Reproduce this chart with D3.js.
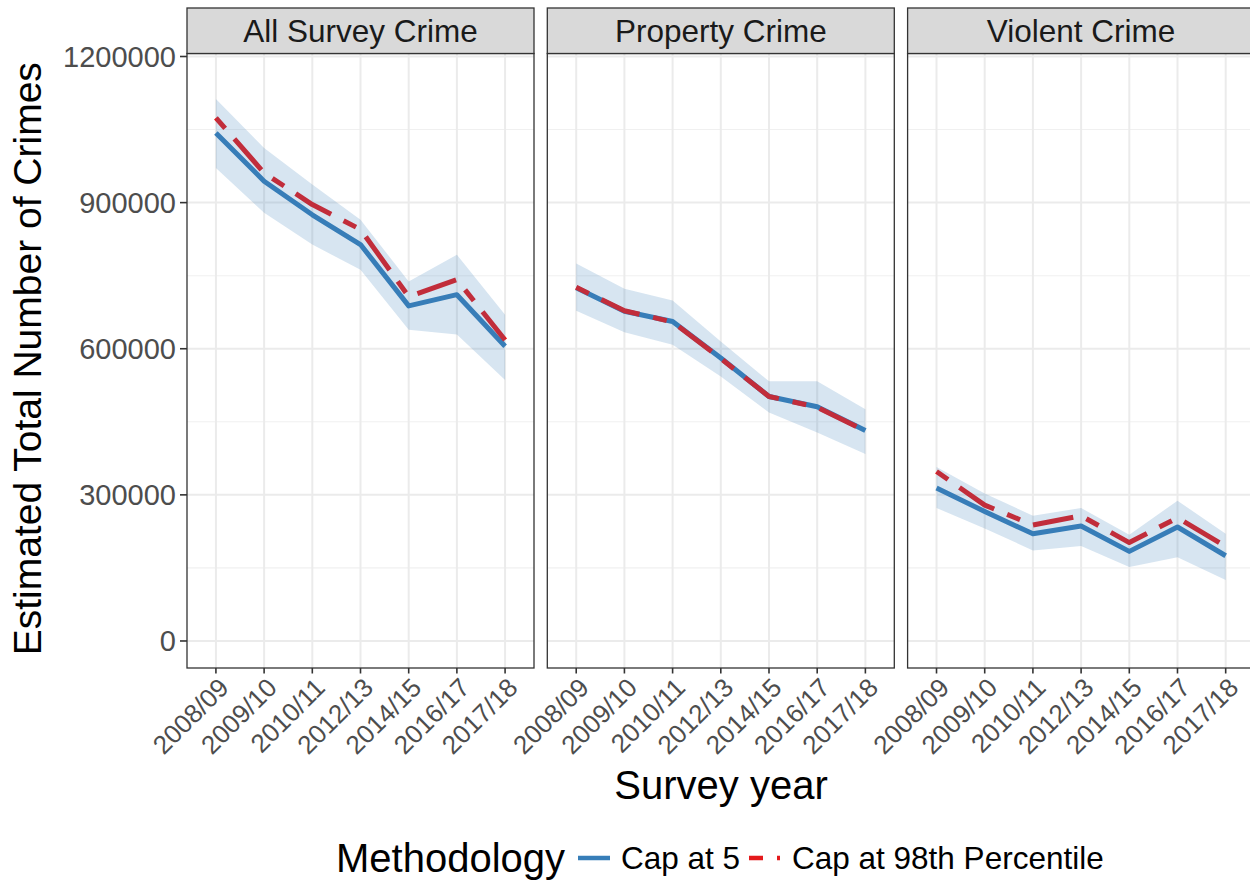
<!DOCTYPE html>
<html>
<head>
<meta charset="utf-8">
<script src="https://cdn.jsdelivr.net/npm/d3@7"></script>
<style>
  html, body { margin: 0; padding: 0; background: #fff; }
  svg { display: block; font-family: "Liberation Sans", Arial, sans-serif; }
</style>
</head>
<body>
<svg id="chart" width="1250" height="880"></svg>
<script>
// Survey years (x categories)
const years = ["2008/09", "2009/10", "2010/11", "2012/13", "2014/15", "2016/17", "2017/18"];

// Facet names
const crimeTypes = ["All Survey Crime", "Property Crime", "Violent Crime"];

// Estimates with the "Cap at 5" methodology
const capAt5 = [
  [1043000, 944000, 875000, 814000, 688000, 711000, 605000],
  [725000, 677000, 656000, 581000, 502000, 481000, 432000],
  [314000, 266000, 220000, 236000, 184000, 234000, 175000]
];

// Estimates with the "Cap at 98th Percentile" methodology
const capAt98 = [
  [1074000, 961000, 896000, 845000, 707000, 742000, 618000],
  [726000, 678000, 655000, 580000, 502000, 480000, 431000],
  [348000, 279000, 238000, 257000, 202000, 253000, 194000]
];

// Confidence band around the "Cap at 5" estimates
const bandLower = [
  [971000, 879000, 814000, 762000, 639000, 629000, 536000],
  [678000, 634000, 608000, 543000, 469000, 428000, 384000],
  [273000, 231000, 186000, 195000, 152000, 172000, 125000]
];
const bandUpper = [
  [1113000, 1012000, 937000, 865000, 738000, 793000, 670000],
  [775000, 723000, 699000, 615000, 533000, 533000, 476000],
  [357000, 303000, 257000, 273000, 218000, 288000, 220000]
];

// Axis ticks
const yMajorTicks = [0, 300000, 600000, 900000, 1200000];
const yMinorTicks = [150000, 450000, 750000, 1050000];

const legendLabels = ["Cap at 5", "Cap at 98th Percentile"];

const blue = "#377eb8";
const red = "#e41a1c";

const svg = d3.select("#chart");

// Layout
const panelLeft = 187, panelWidth = 347, panelGap = 13.3;
const stripTop = 8, stripH = 45.5;
const panelTop = stripTop + stripH, panelBottom = 668;

const y = d3.scaleLinear()
  .domain([-55479, 1206164])
  .range([panelBottom, panelTop]);

const gridMajor = "#ebebeb", gridMinor = "#f0f0f0";

crimeTypes.forEach((name, i) => {
  const x0 = panelLeft + i * (panelWidth + panelGap);
  const x = d3.scalePoint().domain(years).range([x0, x0 + panelWidth]).padding(0.6);

  const g = svg.append("g");
  const clipId = "clip" + i;
  svg.append("clipPath").attr("id", clipId)
    .append("rect").attr("x", x0).attr("y", panelTop).attr("width", panelWidth).attr("height", panelBottom - panelTop);

  const inner = g.append("g").attr("clip-path", `url(#${clipId})`);

  // grid
  inner.selectAll(".ymin").data(yMinorTicks).join("line")
    .attr("x1", x0).attr("x2", x0 + panelWidth)
    .attr("y1", d => y(d)).attr("y2", d => y(d))
    .attr("stroke", gridMinor).attr("stroke-width", 1.1);
  inner.selectAll(".ymaj").data(yMajorTicks).join("line")
    .attr("x1", x0).attr("x2", x0 + panelWidth)
    .attr("y1", d => y(d)).attr("y2", d => y(d))
    .attr("stroke", gridMajor).attr("stroke-width", 2);
  inner.selectAll(".xmaj").data(years).join("line")
    .attr("x1", d => x(d)).attr("x2", d => x(d))
    .attr("y1", panelTop).attr("y2", panelBottom)
    .attr("stroke", gridMajor).attr("stroke-width", 2);

  const line = d3.line().x((d, j) => x(years[j])).y(d => y(d));

  inner.append("path").datum(capAt5[i])
    .attr("d", line).attr("fill", "none")
    .attr("stroke", blue).attr("stroke-width", 5)
    .attr("stroke-linejoin", "round");

  inner.append("path").datum(capAt98[i])
    .attr("d", line).attr("fill", "none")
    .attr("stroke", red).attr("stroke-width", 5)
    .attr("stroke-dasharray", "14 14 41 14")
    .attr("stroke-linejoin", "round");

  // confidence band drawn over the lines
  const area = d3.area()
    .x((d, j) => x(years[j]))
    .y0((d, j) => y(bandLower[i][j]))
    .y1((d, j) => y(bandUpper[i][j]));
  inner.append("path").datum(years)
    .attr("d", area)
    .attr("fill", blue).attr("fill-opacity", 0.2);

  // panel border
  g.append("rect")
    .attr("x", x0).attr("y", panelTop)
    .attr("width", panelWidth).attr("height", panelBottom - panelTop)
    .attr("fill", "none").attr("stroke", "#333").attr("stroke-width", 1.3);

  // strip
  g.append("rect")
    .attr("x", x0).attr("y", stripTop)
    .attr("width", panelWidth).attr("height", stripH)
    .attr("fill", "#d9d9d9").attr("stroke", "#333").attr("stroke-width", 1.3);
  g.append("text")
    .attr("x", x0 + panelWidth / 2).attr("y", stripTop + stripH / 2)
    .attr("dy", "0.36em")
    .attr("text-anchor", "middle")
    .attr("font-size", 31.5).attr("fill", "#1a1a1a")
    .text(name);

  // x axis ticks and labels
  g.selectAll(".xt").data(years).join("line")
    .attr("x1", d => x(d)).attr("x2", d => x(d))
    .attr("y1", panelBottom).attr("y2", panelBottom + 5.5)
    .attr("stroke", "#333").attr("stroke-width", 1.6);
  g.selectAll(".xl").data(years).join("text")
    .attr("transform", d => `translate(${x(d) + 1},${panelBottom + 8}) rotate(-45)`)
    .attr("text-anchor", "end")
    .attr("dy", "0.72em")
    .attr("font-size", 26).attr("fill", "#4d4d4d")
    .text(d => d);
});

// y axis ticks and labels (left panel only)
svg.selectAll(".yt").data(yMajorTicks).join("line")
  .attr("x1", panelLeft - 7).attr("x2", panelLeft)
  .attr("y1", d => y(d)).attr("y2", d => y(d))
  .attr("stroke", "#333").attr("stroke-width", 1.6);
svg.selectAll(".yl").data(yMajorTicks).join("text")
  .attr("x", panelLeft - 11).attr("y", d => y(d))
  .attr("dy", "0.36em")
  .attr("text-anchor", "end")
  .attr("font-size", 29).attr("fill", "#4d4d4d")
  .text(d => String(d));

// axis titles
svg.append("text")
  .attr("x", 721).attr("y", 799)
  .attr("text-anchor", "middle")
  .attr("font-size", 40).attr("fill", "#000")
  .text("Survey year");

svg.append("text")
  .attr("transform", `translate(41,${(panelTop + panelBottom) / 2 - 2}) rotate(-90)`)
  .attr("text-anchor", "middle")
  .attr("font-size", 39).attr("fill", "#000")
  .text("Estimated Total Number of Crimes");

// legend
const legY = 858;
svg.append("text")
  .attr("x", 336).attr("y", legY).attr("dy", "0.36em")
  .attr("font-size", 40).attr("fill", "#000")
  .text("Methodology");

svg.append("line")
  .attr("x1", 578).attr("x2", 610).attr("y1", legY).attr("y2", legY)
  .attr("stroke", blue).attr("stroke-width", 4.5);
svg.append("text")
  .attr("x", 621).attr("y", legY).attr("dy", "0.36em")
  .attr("font-size", 31.5).attr("fill", "#000")
  .text(legendLabels[0]);

svg.append("line")
  .attr("x1", 749).attr("x2", 780).attr("y1", legY).attr("y2", legY)
  .attr("stroke", red).attr("stroke-width", 4.5)
  .attr("stroke-dasharray", "14 14 41 14");
svg.append("text")
  .attr("x", 792).attr("y", legY).attr("dy", "0.36em")
  .attr("font-size", 31.5).attr("fill", "#000")
  .text(legendLabels[1]);
</script>
</body>
</html>
